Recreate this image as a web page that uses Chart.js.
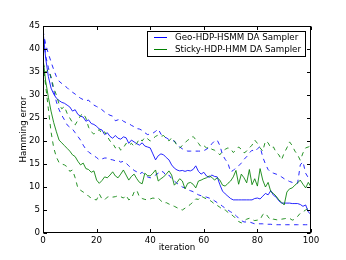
<!DOCTYPE html>
<html>
<head>
<meta charset="utf-8">
<script src="https://cdn.jsdelivr.net/npm/chart.js@4.4.1/dist/chart.umd.min.js"></script>
<style>
  html, body { margin: 0; padding: 0; background: #fff; }
  #wrap { width: 346px; height: 260px; position: relative; }
</style>
</head>
<body>
<div id="wrap"><canvas id="c" width="346" height="260"></canvas></div>
<script>
// ---- data ----
const iterations = [0,1,2,3,4,5,6,7,8,9,10,11,12,13,14,15,16,17,18,19,20,21,22,23,24,25,26,27,28,29,30,31,32,33,34,35,36,37,38,39,40,41,42,43,44,45,46,47,48,49,50,51,52,53,54,55,56,57,58,59,60,61,62,63,64,65,66,67,68,69,70,71,72,73,74,75,76,77,78,79,80,81,82,83,84,85,86,87,88,89,90,91,92,93,94,95,96,97,98,99,100];

const geoMean = [44,38,34,31.5,30.2,29.3,28.8,28.4,28.2,27.8,27.4,26.5,26.8,25.8,25.4,25.2,24.3,24.6,23.8,23.6,23.2,22.6,22.4,21.4,21.8,21,20.6,21.2,20.6,20.4,20.9,20.7,19.5,20.2,19.8,19.4,19.1,19.6,18.9,18.7,18.5,17.2,15.9,16.8,17.2,17,16.4,15.9,14.8,14.1,13.7,13.5,13.6,13.4,13.6,13.5,13.8,14.6,13.4,12.8,13.2,12.4,12.1,12.6,12.3,12.2,10.5,9.1,8.5,8,7.5,7.2,7.2,7.2,7.2,7.2,7.2,7.2,7.2,7.5,7.6,7.4,8,8.6,8.3,9.2,8.2,7.8,7,6.5,6.5,6.5,6.5,6.4,6.4,6.4,6.2,5.8,6.1,4.6,4];

const geoUpper = [44,41,39,37.2,35.5,34,33,32.5,32,31.6,31,30.6,30.2,29.7,29.3,29,28.7,28.9,28.2,27.8,27.5,27.2,26.8,26.3,25.9,25.6,25.4,24.4,24.6,24.8,24.3,24,23.8,23.4,23.1,22.7,22.6,22.3,21.8,21.4,21.5,21.7,22.1,22.6,21.5,20.9,20.7,20.3,20.1,20,19.3,18.7,18.3,18,17.8,17.8,17.8,17.8,17.8,17.8,17.9,18.2,18.6,19.4,20,20.2,19,17,16,15.2,13.3,13.6,14.2,14.6,15.2,16,16.6,17.4,18,17.7,18.3,18.8,16.5,15,13.8,13.2,13,12.8,12.6,12.2,11.8,11.5,11.2,11,10.9,10.8,14.8,15.5,13,12,11.3];

const geoLower = [44,38.5,36,33.5,31,28.5,26.8,25.6,24.6,23.5,23,22.6,21.8,21,20.2,19.1,18.2,17.6,17.2,16.8,16.4,15.9,16.1,16.3,16.3,16,15.9,15.7,15.8,15.4,15.6,15.2,14.6,14.1,13.6,13.3,12.8,13.2,12.6,12.2,12,12.2,12.6,13,13.5,13.2,12.4,12.6,11.8,11.3,10.8,10.4,10,9.8,9.4,9.2,9,8.6,8.3,8.1,7.9,7.8,7.6,7.4,7,6.6,6.3,5.8,5.4,5,4.6,4.3,3.8,3.2,2.7,2.4,2.4,2.4,2.2,2,2,2,2,1.9,1.9,1.9,1.8,1.8,1.8,1.8,1.8,1.8,1.8,1.8,1.8,1.8,1.8,1.8,1.8,1.8,1.8];

const stickyMean = [38,33,29.5,26.5,24,22,20.2,19.6,19,18.4,17.8,17,16.6,15.6,14.8,15.2,14,13.8,13.2,13.5,11.5,10.8,11.4,12.2,12,12.6,13.3,12.4,12,12.8,13.7,12.6,11.5,12.3,12.8,11.8,11,10.7,13,12.5,12.4,13,13.7,11.3,11.8,12.2,12.8,13.5,12.6,10.4,11,11.8,11.3,9.6,10.8,11,10.6,9.8,11.3,11.5,11.8,12,12.4,12.1,11.5,12,11.5,10.4,10.2,10.8,11.3,12.2,13.6,10.6,12.8,12,10.9,13.8,10.5,11.8,10.2,14,11.5,10,11,9,8.6,8,7.2,6.7,6.1,8.9,9.6,9.8,10.4,10.9,11.5,10.6,9.8,11,10];

const stickyUpper = [37,35,35.5,34,31.5,30,28,27,27.5,26,25,24,23.5,24.5,25.5,26,25,23,22,21.5,22,22.5,21.5,22,21,20,19.5,18.5,19,18,18.5,19.5,19,19.5,18.8,19.5,20.5,20,20.8,20.5,20,20.5,21,21.3,21,21.2,20.5,20,20.7,20,19,18.5,19,19.6,20.2,20.5,21,20.3,19.5,18.7,19,18.5,18.7,18.2,18,17.5,17,17.8,18.2,18.5,18.3,17.5,18,18.7,18.2,17.4,17.8,18.5,19.1,20.2,19.5,18.5,17.8,20,19.6,18.5,18.7,17.5,17,15.9,17.4,18.5,19.8,19,17.8,17,15.8,17.4,18.5,18.7,19];

const stickyLower = [37,32,27,22,18.5,16.5,15.3,15,14.8,14.4,13.4,13.7,12,9.8,9.3,8.9,8.6,8,7.6,7.3,7.2,8.5,7.4,7.2,7.8,8,7.8,7.9,8.1,7.9,7.6,8.2,7.2,7.5,8.9,9.3,7.8,7.5,7.3,7.2,7.4,7.6,7.5,7.6,7,6.5,6.6,6.3,6,5.8,5.5,5.2,5,5.4,5.8,6.2,6.8,7.4,7.3,8,7.7,7.4,7.2,6.8,6.3,6,5.6,5.1,5,4.5,4.1,3.7,3.1,2.5,2.2,2.6,3,3.2,2.9,2.7,2.8,2.9,4,4.3,3.5,2.8,3,2.9,2.8,3,3.1,3.2,3.2,2.8,3,3.6,4.3,4.6,5,5.4,5];

const seriesLabels = ['Geo-HDP-HSMM DA Sampler', 'Sticky-HDP-HMM DA Sampler'];
const xTicks = [0, 20, 40, 60, 80, 100];
const yTicks = [0, 5, 10, 15, 20, 25, 30, 35, 40, 45];
const xTitle = 'iteration';
const yTitle = 'Hamming error';

// ---- chart ----
const BLUE = '#0000ff', GREEN = '#008000';
const FONT = 'DejaVu Sans';
const FS = 8.7;
const pts = arr => iterations.map((x, i) => ({x, y: arr[i]}));
const DASH = [4.4, 4.4];
function ds(label, arr, color, dashed) {
  return { label, data: pts(arr), borderColor: color, borderWidth: 0.85, borderDash: dashed ? DASH : [],
           pointRadius: 0, tension: 0, fill: false };
}

Chart.defaults.font.family = FONT;
Chart.defaults.font.size = FS;
Chart.defaults.color = '#000';

const framePlugin = {
  id: 'frame',
  afterDraw(chart) {
    const {ctx, chartArea: a, scales} = chart;
    const x = scales.x, y = scales.y;
    ctx.save();
    ctx.strokeStyle = '#000';
    ctx.lineWidth = 1;
    const L = Math.round(a.left) + 0.5, R = Math.round(a.right) - 0.5;
    const T = Math.round(a.top) + 0.5, B = Math.round(a.bottom) - 0.5;
    ctx.strokeRect(L, T, R - L, B - T);
    const TL = 3.5;
    ctx.beginPath();
    xTicks.forEach(v => {
      const px = Math.round(x.getPixelForValue(v)) + 0.5;
      ctx.moveTo(px, B); ctx.lineTo(px, B - TL);
      ctx.moveTo(px, T); ctx.lineTo(px, T + TL);
    });
    yTicks.forEach(v => {
      const py = Math.round(y.getPixelForValue(v)) + 0.5;
      ctx.moveTo(L, py); ctx.lineTo(L + TL, py);
      ctx.moveTo(R, py); ctx.lineTo(R - TL, py);
    });
    ctx.stroke();

    // legend
    ctx.font = FS + 'px "' + FONT + '"';
    const tw = Math.max(...seriesLabels.map(s => ctx.measureText(s).width));
    const boxR = Math.round(a.right) - 5;
    const boxT = Math.round(a.top) + 5;
    const boxW = 7 + 13 + 8 + tw + 5;
    const boxL = Math.round(boxR - boxW);
    const boxB = boxT + 26;
    ctx.fillStyle = '#fff';
    ctx.fillRect(boxL, boxT, boxR - boxL, boxB - boxT);
    ctx.strokeStyle = '#000';
    ctx.strokeRect(boxL + 0.5, boxT + 0.5, boxR - boxL - 1, boxB - boxT - 1);
    const colors = [BLUE, GREEN];
    seriesLabels.forEach((s, i) => {
      const ry = boxT + 6.5 + i * 12;
      ctx.strokeStyle = colors[i];
      ctx.beginPath();
      ctx.moveTo(boxL + 7, ry); ctx.lineTo(boxL + 20, ry);
      ctx.stroke();
      ctx.fillStyle = '#000';
      ctx.textBaseline = 'middle';
      ctx.textAlign = 'left';
      ctx.fillText(s, boxL + 28, ry);
    });
    ctx.restore();
  }
};

new Chart(document.getElementById('c'), {
  type: 'line',
  data: {
    datasets: [
      ds(seriesLabels[1], stickyMean, GREEN, false),
      ds(seriesLabels[1] + ' upper', stickyUpper, GREEN, true),
      ds(seriesLabels[1] + ' lower', stickyLower, GREEN, true),
      ds(seriesLabels[0], geoMean, BLUE, false),
      ds(seriesLabels[0] + ' upper', geoUpper, BLUE, true),
      ds(seriesLabels[0] + ' lower', geoLower, BLUE, true),
    ]
  },
  options: {
    responsive: false,
    animation: false,
    devicePixelRatio: 1,
    layout: { padding: { left: 0, top: 26, right: 35, bottom: 0 } },
    plugins: { legend: { display: false }, tooltip: { enabled: false } },
    scales: {
      x: {
        type: 'linear', min: 0, max: 100,
        afterBuildTicks: s => { s.ticks = xTicks.map(v => ({value: v})); },
        ticks: { padding: 2.5, maxRotation: 0, autoSkip: false },
        grid: { display: false, drawTicks: false },
        border: { display: false },
        title: { display: true, text: xTitle, padding: { top: 0, bottom: 7 } },
        afterFit: s => { s.height = 27; }
      },
      y: {
        type: 'linear', min: 0, max: 45,
        afterBuildTicks: s => { s.ticks = yTicks.map(v => ({value: v})); },
        ticks: { padding: 3, autoSkip: false },
        grid: { display: false, drawTicks: false },
        border: { display: false },
        title: { display: true, text: yTitle, padding: { top: 19, bottom: 0 } },
        afterFit: s => { s.width = 43; }
      }
    }
  },
  plugins: [framePlugin]
});
</script>
</body>
</html>
